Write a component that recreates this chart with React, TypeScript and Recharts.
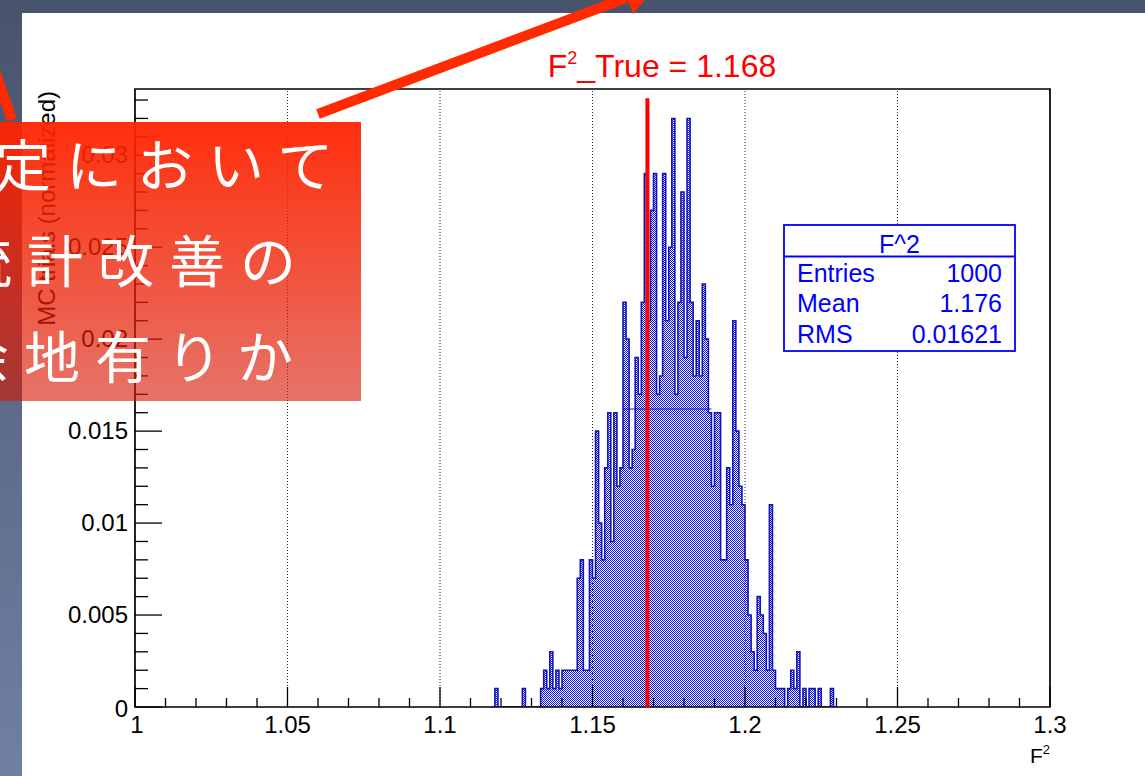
import React from 'react';
import { ComposedChart, Area, XAxis, YAxis, ReferenceLine, ReferenceArea } from 'recharts';

const FONT = '"Liberation Sans", Arial, Helvetica, sans-serif';
const CJK = '"Noto Sans CJK JP", "Noto Sans CJK SC", sans-serif';

// Histogram "F^2": bins of width 0.001; listed bins start at 1.117 (all others empty)
const binStart = 1.117;
const binWidth = 0.001;
const binCounts = [
  0, 1, 0, 0, 0, 0, 0, 0, 0, 0, // 1.117 - 1.126
  1, 0, 0, 0, 0, 0, 1, 2, 1, 3, // 1.127 - 1.136
  1, 2, 1, 2, 2, 2, 2, 2, 7, 8, // 1.137 - 1.146
  2, 2, 8, 7, 15, 10, 8, 13, 16, 9, // 1.147 - 1.156
  16, 12, 13, 22, 20, 13, 14, 19, 17, 22, // 1.157 - 1.166
  29, 21, 27, 29, 17, 18, 29, 21, 25, 32, // 1.167 - 1.176
  17, 22, 28, 19, 32, 22, 18, 21, 18, 23, // 1.177 - 1.186
  20, 16, 12, 16, 16, 8, 8, 13, 11, 21, // 1.187 - 1.196
  15, 12, 11, 8, 5, 3, 2, 6, 5, 4, // 1.197 - 1.206
  2, 11, 2, 1, 1, 1, 0, 1, 2, 1, // 1.207 - 1.216
  3, 0, 1, 0, 1, 1, 0, 1, 0, 0, // 1.217 - 1.226
  0, 1, 0, // 1.227 - 1.229
];
const entries = 1000;

const trueValue = 1.168;
const trueLineTop = 0.0331;
const bandLevel = 0.0162;
const bandFrom = 1.16;
const bandTo = 1.189;

const xDomain: [number, number] = [1, 1.3];
const yMax = 0.0336;
const xMajor = [1, 1.05, 1.1, 1.15, 1.2, 1.25, 1.3];
const xMajorLabels = ['1', '1.05', '1.1', '1.15', '1.2', '1.25', '1.3'];
const xGrid = [1.05, 1.1, 1.15, 1.2, 1.25];
const yMajor = [0, 0.005, 0.01, 0.015, 0.02, 0.025, 0.03];
const yMajorLabels = ['0', '0.005', '0.01', '0.015', '0.02', '0.025', '0.03'];

const xMinor: number[] = [];
for (let i = 1; i < 30; i++) {
  const v = +(1 + i * 0.01).toFixed(2);
  if (!xMajor.some((m) => Math.abs(m - v) < 1e-9)) xMinor.push(v);
}
const yMinor: number[] = [];
for (let i = 1; i <= 33; i++) {
  const v = +(i * 0.001).toFixed(3);
  if (!yMajor.some((m) => Math.abs(m - v) < 1e-9)) yMinor.push(v);
}
const xTicks = [...xMajor, ...xMinor].sort((a, b) => a - b);
const yTicks = [...yMajor, ...yMinor].sort((a, b) => a - b);

const titleText = '_True = 1.168';
const yTitle = 'MC trials (normalized)';
const statsTitle = 'F^2';
const statsLabels = ['Entries', 'Mean', 'RMS'];
const statsValues = ['1000', '1.176', '0.01621'];
const slideLines = ['定において', '統計改善の', '余地有りか'];

const renderXTick = (props: any) => {
  const { x, y, payload } = props;
  const idx = xMajor.findIndex((m) => Math.abs(m - payload.value) < 1e-9);
  const major = idx >= 0;
  return (
    <g>
      <line x1={x} x2={x} y1={y} y2={y - (major ? 20 : 9)} stroke="#000" strokeWidth={1.3} />
      {major && (
        <text x={x + (idx === 0 ? 2 : 0)} y={y + 26} textAnchor="middle" fontSize={24} fontFamily={FONT} fill="#000">
          {xMajorLabels[idx]}
        </text>
      )}
    </g>
  );
};

const renderYTick = (props: any) => {
  const { x, y, payload } = props;
  const idx = yMajor.findIndex((m) => Math.abs(m - payload.value) < 1e-9);
  const major = idx >= 0;
  return (
    <g>
      <line x1={x} x2={x + (major ? 27 : 13)} y1={y} y2={y} stroke="#000" strokeWidth={1.3} />
      {major && (
        <text x={x - 7} y={y + (idx === 0 ? 10 : 8)} textAnchor="end" fontSize={24} fontFamily={FONT} fill="#000">
          {yMajorLabels[idx]}
        </text>
      )}
    </g>
  );
};

const renderYTitle = (props: any) => {
  const vb = props.viewBox || { x: 75, y: 89 };
  return (
    <text
      transform={`translate(${vb.x - 20}, ${vb.y + 2}) rotate(-90)`}
      textAnchor="end"
      fontSize={24}
      fontFamily={FONT}
      fill="#000"
    >
      {yTitle}
    </text>
  );
};

export default function App() {
  const data = binCounts.map((c, i) => ({ x: +(binStart + i * binWidth).toFixed(3), y: c / entries }));
  data.push({ x: +(binStart + binCounts.length * binWidth).toFixed(3), y: 0 });

  return (
    <div
      style={{
        position: 'absolute',
        left: 0,
        top: 0,
        width: 1145,
        height: 776,
        overflow: 'hidden',
        background: 'linear-gradient(to bottom, #48536c, #7080a2)',
      }}
    >
      <div style={{ position: 'absolute', left: 0, top: 0, width: 1145, height: 13, background: '#48536c' }} />
      <div style={{ position: 'absolute', left: 22, top: 13, width: 1123, height: 763, background: '#ffffff' }} />
      <div style={{ position: 'absolute', left: 0, top: 0 }}>
        <ComposedChart
          width={1145}
          height={776}
          data={data}
          margin={{ top: 89, right: 95, bottom: 39, left: 75 }}
        >
          <defs>
            <pattern id="checker" width="2" height="2" patternUnits="userSpaceOnUse">
              <rect x="0" y="0" width="2" height="2" fill="#ffffff" />
              <rect x="0" y="0" width="1" height="1" fill="#0c0cf0" />
              <rect x="1" y="1" width="1" height="1" fill="#0c0cf0" />
            </pattern>
          </defs>
          <XAxis
            type="number"
            dataKey="x"
            domain={xDomain}
            ticks={xTicks}
            interval={0}
            tick={renderXTick}
            tickLine={false}
            axisLine={false}
            tickSize={0}
            tickMargin={0}
            height={30}
            allowDataOverflow
          />
          <YAxis
            type="number"
            domain={[0, yMax]}
            ticks={yTicks}
            interval={0}
            tick={renderYTick}
            tickLine={false}
            axisLine={false}
            tickSize={0}
            tickMargin={0}
            width={60}
            allowDataOverflow
            label={{ value: yTitle, content: renderYTitle }}
          />
          {xGrid.map((g) => (
            <ReferenceLine key={g} x={g} stroke="#222" strokeWidth={1} strokeDasharray="1 2" />
          ))}
          <Area
            type="stepAfter"
            dataKey="y"
            stroke="#1414b0"
            strokeWidth={1.6}
            fill="url(#checker)"
            fillOpacity={1}
            dot={false}
            activeDot={false}
            isAnimationActive={false}
          />
          <ReferenceLine
            segment={[
              { x: bandFrom, y: bandLevel },
              { x: bandTo, y: bandLevel },
            ]}
            stroke="#1414b0"
            strokeWidth={1}
          />
          <ReferenceLine
            segment={[
              { x: trueValue, y: 0 },
              { x: trueValue, y: trueLineTop },
            ]}
            stroke="#ff0000"
            strokeWidth={4}
          />
          <ReferenceArea
            x1={xDomain[0]}
            x2={xDomain[1]}
            y1={0}
            y2={yMax}
            fill="none"
            stroke="#000"
            strokeWidth={1.7}
            ifOverflow="visible"
          />
        </ComposedChart>
      </div>
      <svg
        width={1145}
        height={776}
        style={{ position: 'absolute', left: 0, top: 0, pointerEvents: 'none' }}
      >
        <text x={662} y={77} textAnchor="middle" fontSize={32} fontFamily={FONT} fill="#ff0000">
          F<tspan dy={-13} fontSize={18}>2</tspan>
          <tspan dy={13}>{titleText}</tspan>
        </text>
        <g fontFamily={FONT} fill="#0000ff">
          <rect x={784} y={225} width={231} height={126} fill="#ffffff" stroke="#0000ff" strokeWidth={1.8} />
          <line x1={784} x2={1015} y1={256.5} y2={256.5} stroke="#0000ff" strokeWidth={1.8} />
          <text x={899.5} y={252.5} textAnchor="middle" fontSize={25}>
            {statsTitle}
          </text>
          {statsLabels.map((l, i) => (
            <text key={l} x={797} y={281.5 + i * 30.8} fontSize={25}>
              {l}
            </text>
          ))}
          {statsValues.map((v, i) => (
            <text key={v} x={1002} y={281.5 + i * 30.8} fontSize={25} textAnchor="end">
              {v}
            </text>
          ))}
        </g>
        <text x={1050} y={763} textAnchor="end" fontSize={21} fontFamily={FONT} fill="#000">
          F<tspan dy={-9} fontSize={13}>2</tspan>
        </text>
        <line x1={318} y1={114} x2={626} y2={-2} stroke="#ff2a00" strokeWidth={10} />
        <polygon points="633,14 619,-23 659,-17" fill="#ff2a00" />
        <line x1={12} y1={120} x2={-14} y2={45} stroke="#ff2a00" strokeWidth={10} />
      </svg>
      <div
        style={{
          position: 'absolute',
          left: 0,
          top: 122,
          width: 361,
          height: 279,
          overflow: 'hidden',
          background: 'linear-gradient(to bottom, rgba(255,36,0,0.95), rgba(212,22,4,0.6))',
        }}
      >
        {slideLines.map((t, i) => (
          <div
            key={t}
            style={{
              position: 'absolute',
              left: [-5, -44, -47][i],
              top: 12 + i * 96,
              fontFamily: CJK,
              fontSize: 56,
              lineHeight: '56px',
              letterSpacing: 15,
              color: '#ffffff',
              whiteSpace: 'nowrap',
            }}
          >
            {t}
          </div>
        ))}
      </div>
    </div>
  );
}
